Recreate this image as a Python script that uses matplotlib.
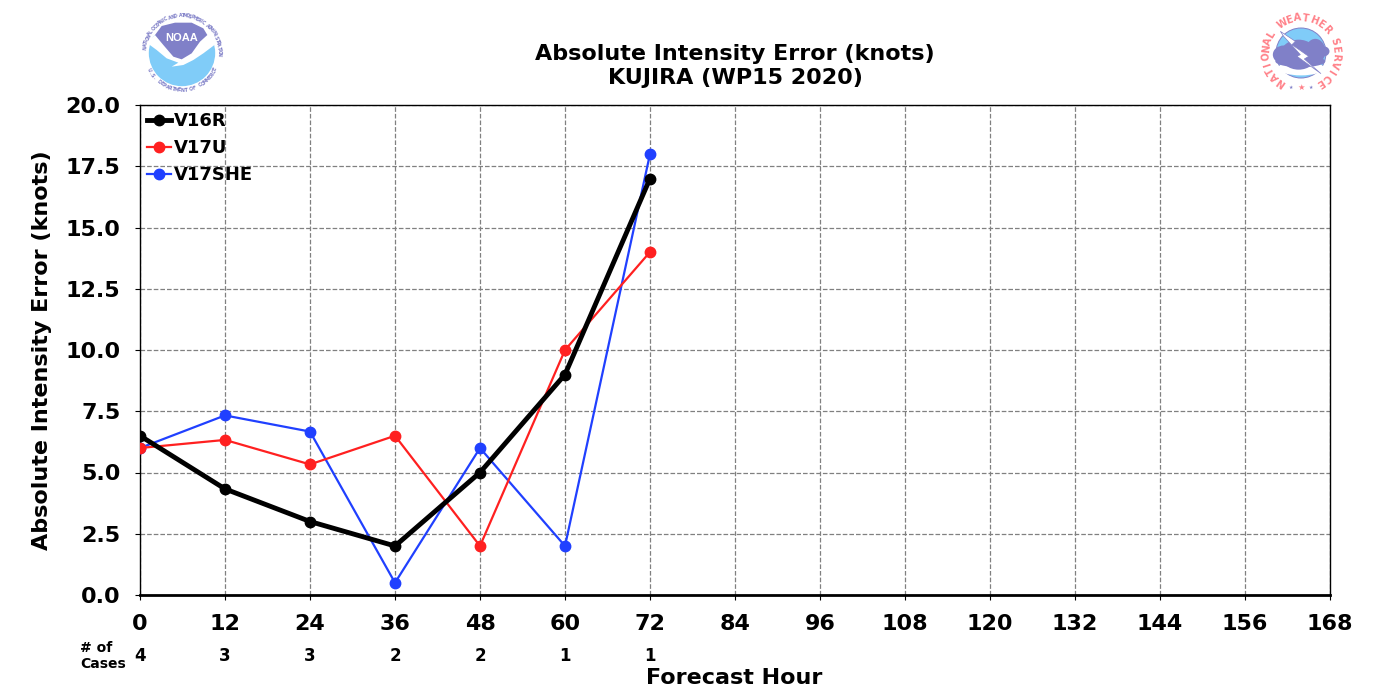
#!/usr/bin/env python3
"""Absolute intensity error for KUJIRA, with NOAA and NWS style logos."""

import numpy as np
import matplotlib
matplotlib.use('Agg')
import matplotlib.pyplot as plt
from matplotlib.patches import Circle, Polygon, Ellipse

# Chart data
hours = [0, 12, 24, 36, 48, 60, 72]
v16r = [6.5, 4.33, 3.0, 2.0, 5.0, 9.0, 17.0]
v17u = [6.0, 6.33, 5.33, 6.5, 2.0, 10.0, 14.0]
v17she = [6.0, 7.33, 6.67, 0.5, 6.0, 2.0, 18.0]
cases = [4, 3, 3, 2, 2, 1, 1]
x_ticks = list(range(0, 169, 12))
y_ticks = [0, 2.5, 5, 7.5, 10, 12.5, 15, 17.5, 20]

PURPLE = '#8080c8'
SKY = '#80ccf8'
SALMON = '#ff8088'


def ring_text(ax, text, radius, start, end, color, size, flip=False):
    """Write text letter by letter along a circle (angles in degrees)."""
    angles = np.linspace(start, end, len(text))
    for ch, ang in zip(text, angles):
        a = np.radians(ang)
        rot = ang + 90 if flip else ang - 90
        ax.text(radius * np.cos(a), radius * np.sin(a), ch, color=color, fontsize=size,
                fontweight='bold', ha='center', va='center', rotation=rot)


def logo_axes(fig, left, top, size):
    """Square axes for a logo, placed in pixels from the top left corner."""
    ax = fig.add_axes([left / 1400, 1 - (top + size) / 700, size / 1400, size / 700])
    ax.set_xlim(-1, 1)
    ax.set_ylim(-1, 1)
    ax.axis('off')
    return ax


def outline(pts, cx, cy):
    """Logo outlines were traced at 3x zoom, turn them into logo units."""
    return [((x - cx) / 120, (cy - y) / 120) for x, y in pts]


def draw_noaa(fig):
    ax = logo_axes(fig, 142, 13, 80)
    cx, cy = 186, 159
    ax.add_patch(Circle((0, 0), 0.83, color=SKY, lw=0))
    # white gull between the sky and the purple top
    ax.add_patch(Polygon(outline([(80, 128), (105, 105), (262, 105), (282, 105), (290, 130), (250, 160),
                                  (220, 180), (190, 195), (155, 200), (175, 188), (140, 175), (110, 150)],
                                 cx, cy), closed=True, color='white', lw=0))
    ax.add_patch(Polygon(outline([(80, 128), (110, 60), (186, 40), (262, 60), (290, 130), (262, 105),
                                  (105, 105)], cx, cy), closed=True, color='white', lw=0))
    ax.add_patch(Polygon(outline([(105, 105), (125, 78), (165, 68), (215, 68), (250, 85), (262, 105),
                                  (240, 125), (215, 160), (185, 178), (160, 170), (130, 135)], cx, cy),
                         closed=True, color=PURPLE, lw=0))
    ax.text(0, 0.38, 'NOAA', color='white', fontsize=8, fontweight='bold', family='Liberation Sans',
            ha='center', va='center')
    ring_text(ax, 'NATIONAL OCEANIC AND ATMOSPHERIC ADMINISTRATION', 0.93, 172, -2, PURPLE, 3.4)
    ring_text(ax, 'U.S. DEPARTMENT OF COMMERCE', 0.93, 207, 334, PURPLE, 3.4, flip=True)


def draw_nws(fig):
    ax = logo_axes(fig, 1261, 13, 80)
    cx, cy = 182, 160
    ax.add_patch(Circle((0, 0), 0.625, facecolor=SKY, edgecolor=PURPLE, lw=0.7))
    ax.add_patch(Ellipse((0, -0.38), 1.15, 0.36, color='white', lw=0))
    for ex, ey, w, h in [(130, 165, 65, 55), (175, 165, 110, 90), (225, 155, 60, 75),
                         (250, 155, 35, 30), (180, 185, 150, 35)]:
        (u, v), = outline([(ex, ey)], cx, cy)
        ax.add_patch(Ellipse((u, v), w / 120, h / 120, color=PURPLE, lw=0))
    ax.add_patch(Polygon(outline([(120, 95), (165, 125), (155, 135), (205, 170), (192, 178), (242, 222),
                                  (170, 170), (180, 165), (130, 110)], cx, cy),
                         closed=True, facecolor='white', edgecolor=PURPLE, lw=0.5))
    ring_text(ax, 'NATIONAL', 0.875, 235, 149, SALMON, 7)
    ring_text(ax, 'WEATHER', 0.875, 122, 42, SALMON, 7)
    ring_text(ax, 'SERVICE', 0.875, 19, -57, SALMON, 7)
    ax.text(0, -0.87, '★', color=SALMON, fontsize=6, ha='center', va='center')
    ax.text(-0.25, -0.85, '★', color=PURPLE, fontsize=3.5, ha='center', va='center')
    ax.text(0.25, -0.85, '★', color=PURPLE, fontsize=3.5, ha='center', va='center')


def main():
    fig = plt.figure(figsize=(14, 7), dpi=100)
    ax = fig.add_axes([140 / 1400, 1 - 595 / 700, 1190 / 1400, 490 / 700])

    ax.plot(hours, v16r, color='black', lw=3.5, marker='o', ms=7.5, label='V16R', zorder=5)
    ax.plot(hours, v17u, color='#ff2020', lw=1.6, marker='o', ms=7.5, label='V17U', zorder=4)
    ax.plot(hours, v17she, color='#2040ff', lw=1.6, marker='o', ms=7.5, label='V17SHE', zorder=3)

    ax.set_xlim(0, 168)
    ax.set_ylim(0, 20)
    ax.set_xticks(x_ticks)
    ax.set_yticks(y_ticks)
    ax.set_yticklabels([f'{v:.1f}' for v in y_ticks])
    ax.tick_params(axis='both', labelsize=16, length=3.5, width=0.8, pad=10.5)
    for lab in ax.get_xticklabels() + ax.get_yticklabels():
        lab.set_fontweight('bold')
    ax.grid(True, color='#808080', ls='--', lw=0.9)
    ax.set_axisbelow(True)
    for side in ['top', 'right', 'left']:
        ax.spines[side].set_linewidth(1.0)
    ax.spines['bottom'].set_linewidth(2)

    ax.set_ylabel('Absolute Intensity Error (knots)', fontsize=16, fontweight='bold', labelpad=10)
    fig.text(734.5 / 1400, 1 - 678 / 700, 'Forecast Hour', fontsize=16, fontweight='bold', ha='center', va='center')
    fig.text(735 / 1400, 1 - 66 / 700, 'Absolute Intensity Error (knots)\nKUJIRA (WP15 2020)',
             fontsize=16, fontweight='bold', ha='center', va='center', linespacing=1.25)

    leg = ax.legend(loc='upper left', frameon=False, prop={'size': 13, 'weight': 'bold'},
                    borderaxespad=0.1, borderpad=0.3, labelspacing=0.5, handlelength=1.3, handletextpad=0.2)
    leg.set_zorder(6)

    # number of cases row under the axis
    trans = ax.get_xaxis_transform()
    for h, n in zip(hours, cases):
        ax.text(h, -61 / 490, str(n), transform=trans, fontsize=12, fontweight='bold', ha='center', va='center')
    fig.text(80 / 1400, 1 - 656 / 700, '# of\nCases', fontsize=10, fontweight='bold', ha='left', va='center',
             linespacing=1.15)

    draw_noaa(fig)
    draw_nws(fig)

    fig.savefig('out.png', dpi=100)


if __name__ == '__main__':
    main()
